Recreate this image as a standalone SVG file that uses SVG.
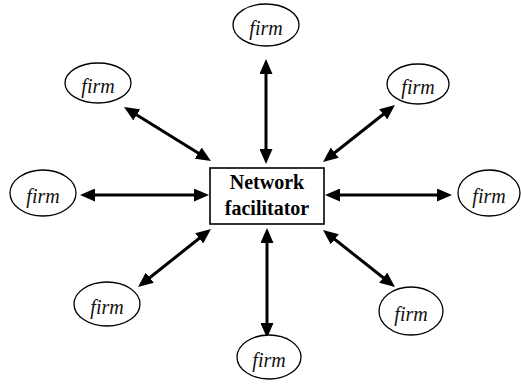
<svg xmlns="http://www.w3.org/2000/svg" width="521" height="392" viewBox="0 0 521 392">
<style>
.firm ellipse{fill:#fff;stroke:#000;stroke-width:1.3}
.firm text{font-family:"Liberation Serif",serif;font-style:italic;font-size:20px;text-anchor:middle;fill:#111}
.hub rect{fill:#fff;stroke:#000;stroke-width:1.6}
.hub text{font-family:"Liberation Serif",serif;font-weight:bold;font-size:20px;text-anchor:middle;fill:#000}
.conn line{stroke:#000;stroke-width:3;marker-start:url(#ah);marker-end:url(#ah)}
</style>
<defs>
<marker id="ah" markerUnits="userSpaceOnUse" markerWidth="15" markerHeight="13" refX="7" refY="6.5" orient="auto-start-reverse" viewBox="0 0 15 13">
<path d="M0,0 L15,6.5 L0,13 z" fill="#000"/>
</marker>
</defs>
<rect width="521" height="392" fill="#fff"/>
<g id="connectors" class="conn">
<line x1="266" y1="67" x2="266" y2="156"/>
<line x1="267" y1="236" x2="267" y2="330"/>
<line x1="88" y1="195" x2="201" y2="195"/>
<line x1="333" y1="195" x2="444" y2="195"/>
<line x1="130.8" y1="111.2" x2="204.2" y2="156.8"/>
<line x1="388.7" y1="110" x2="329.3" y2="157"/>
<line x1="144.3" y1="282" x2="204.7" y2="234"/>
<line x1="329.3" y1="235" x2="388.7" y2="282"/>
</g>
<g id="hub" class="hub">
<rect x="210" y="168" width="114" height="56"/>
<text x="267" y="189">Network</text>
<text x="267" y="215">facilitator</text>
</g>
<g id="firm-top" class="firm"><ellipse cx="266" cy="25" rx="33" ry="21"/><text x="266" y="35">firm</text></g>
<g id="firm-top-left" class="firm"><ellipse cx="98" cy="83" rx="33" ry="20"/><text x="98" y="93">firm</text></g>
<g id="firm-top-right" class="firm"><ellipse cx="418" cy="84" rx="31" ry="20"/><text x="418" y="94">firm</text></g>
<g id="firm-left" class="firm"><ellipse cx="43" cy="193" rx="33" ry="23"/><text x="43" y="203">firm</text></g>
<g id="firm-right" class="firm"><ellipse cx="489" cy="193" rx="31" ry="23"/><text x="489" y="203">firm</text></g>
<g id="firm-bottom-left" class="firm"><ellipse cx="107" cy="304" rx="33" ry="22"/><text x="107" y="314">firm</text></g>
<g id="firm-bottom-right" class="firm"><ellipse cx="411" cy="311" rx="32" ry="24"/><text x="411" y="321">firm</text></g>
<g id="firm-bottom" class="firm"><ellipse cx="269" cy="357" rx="32" ry="22"/><text x="269" y="367">firm</text></g>
</svg>
